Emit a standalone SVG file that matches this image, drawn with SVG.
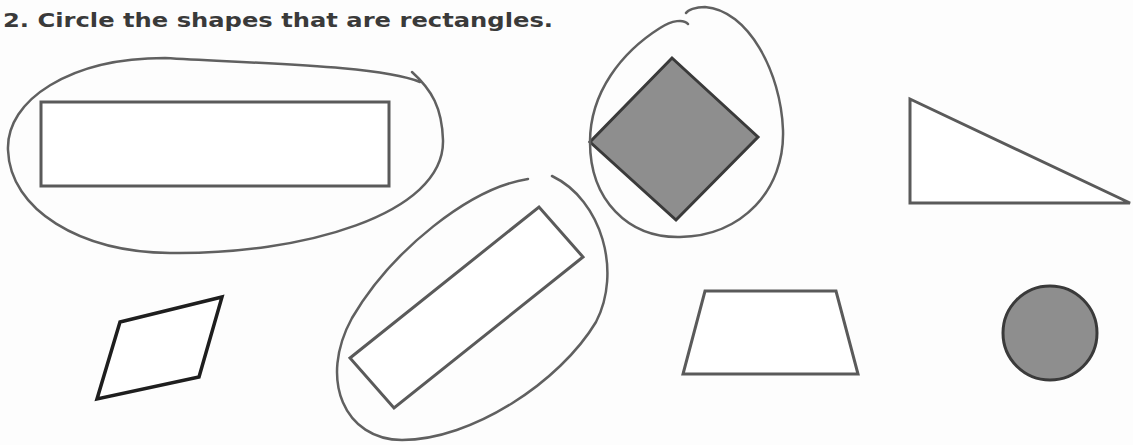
<svg xmlns="http://www.w3.org/2000/svg" width="1133" height="445" viewBox="0 0 1133 445">
  <style>
    .title { font-family: "DejaVu Sans", "Liberation Sans", sans-serif; font-weight: bold; font-size: 20px; fill: #3a3a3a; }
    .shape { fill: #ffffff; stroke: #5a5a5a; stroke-width: 3; stroke-linejoin: miter; }
    .dark { fill: #ffffff; stroke: #1e1e1e; stroke-width: 3.5; stroke-linejoin: miter; }
    .filled { fill: #8e8e8e; stroke: #3a3a3a; stroke-width: 3; }
    .loop { fill: none; stroke: #606060; stroke-width: 2.5; stroke-linecap: round; stroke-linejoin: round; }
  </style>
  <rect width="1133" height="445" fill="#fdfdfd"/>
  <text class="title" x="3" y="27" textLength="550" lengthAdjust="spacingAndGlyphs">2. Circle the shapes that are rectangles.</text>

  <g id="long-rectangle">
    <rect class="shape" x="41" y="102" width="348" height="84"/>
  </g>
  <g id="diamond">
    <polygon class="filled" points="672,58 758,137 676,220 590,142"/>
  </g>
  <g id="triangle">
    <polygon class="shape" points="910,99 910,203 1130,203"/>
  </g>
  <g id="parallelogram">
    <polygon class="dark" points="120,322 222,297 199,377 97,399"/>
  </g>
  <g id="tilted-rectangle">
    <polygon class="shape" points="350,358 539,207 583,257 394,408"/>
  </g>
  <g id="trapezoid">
    <polygon class="shape" points="705,291 836,291 858,374 683,374"/>
  </g>
  <g id="circle">
    <circle class="filled" cx="1050" cy="333" r="47"/>
  </g>

  <g id="connectors">
    <path class="loop" d="M 420,82 C 380,66 270,64 165,58 C 70,58 6,100 8,150 C 10,210 80,252 170,253 C 300,255 445,215 443,140 C 442,108 432,90 412,72"/>
    <path class="loop" d="M 688,24 C 684,19 672,20 660,28 C 622,52 590,92 590,142 C 590,200 628,238 680,237 C 742,236 785,190 783,130 C 781,72 748,10 705,7 C 695,7 688,10 686,13"/>
    <path class="loop" d="M 528,179 C 470,188 392,250 352,318 C 318,380 345,440 402,440 C 472,440 560,382 596,322 C 622,272 602,200 552,176"/>
  </g>
</svg>
